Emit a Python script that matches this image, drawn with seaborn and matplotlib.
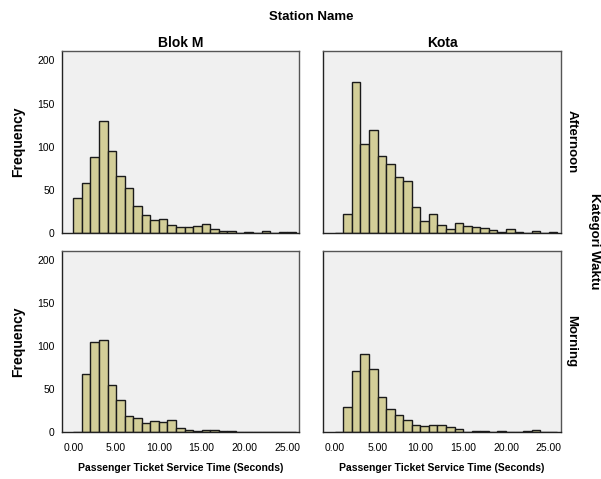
import numpy as np
import pandas as pd
import matplotlib
matplotlib.use("Agg")
import matplotlib.pyplot as plt
import seaborn as sns

# bin counts, bins of 1 second from 0 to 26
bin_edges = list(range(0, 27))
blok_m_afternoon = [40, 58, 88, 130, 95, 66, 52, 31, 21, 15, 16, 9, 7, 6, 8, 10, 4, 2, 2, 0, 1, 0, 2, 0, 1, 1]
kota_afternoon = [0, 22, 175, 103, 119, 89, 80, 65, 60, 30, 14, 22, 9, 4, 11, 8, 6, 5, 3, 1, 4, 1, 0, 2, 0, 1]
blok_m_morning = [0, 68, 105, 107, 55, 38, 19, 17, 11, 13, 12, 14, 5, 3, 1, 3, 3, 1, 1, 0, 0, 0, 0, 0, 0, 0]
kota_morning = [0, 29, 71, 91, 74, 41, 27, 20, 14, 9, 7, 9, 8, 6, 4, 0, 1, 2, 0, 2, 0, 0, 1, 3, 0, 0]

stations = ["Blok M", "Kota"]
periods = ["Afternoon", "Morning"]
counts = {
    ("Afternoon", "Blok M"): blok_m_afternoon,
    ("Afternoon", "Kota"): kota_afternoon,
    ("Morning", "Blok M"): blok_m_morning,
    ("Morning", "Kota"): kota_morning,
}
x_ticks = [0, 5, 10, 15, 20, 25]
y_ticks = [0, 50, 100, 150, 200]

rows = []
for (period, station), vals in counts.items():
    for lo, n in zip(bin_edges[:-1], vals):
        rows.append({"period": period, "station": station, "time": lo + 0.5, "n": n})
df = pd.DataFrame(rows)

sns.set_style("white")
plt.rcParams['font.family'] = ['Liberation Sans', 'DejaVu Sans']
plt.rcParams['text.color'] = 'black'
plt.rcParams['axes.labelcolor'] = 'black'
plt.rcParams['xtick.color'] = 'black'
plt.rcParams['ytick.color'] = 'black'

fig, axes = plt.subplots(2, 2, figsize=(6.01, 4.79), dpi=100, sharex=True, sharey=True)
fig.subplots_adjust(left=0.1027, right=0.933, top=0.8935, bottom=0.0975,
                    wspace=0.101, hspace=0.1)

bar_color = "#d3ce98"
for i, period in enumerate(periods):
    for j, station in enumerate(stations):
        ax = axes[i, j]
        sub = df[(df.period == period) & (df.station == station)]
        sns.histplot(data=sub, x="time", weights="n", binwidth=1, binrange=(0, 26), ax=ax,
                     color=bar_color, alpha=1, edgecolor="#1a1a1a", linewidth=1.0)
        ax.set_facecolor("#f0f0f0")
        ax.set_xlim(-1.35, 26.4)
        ax.set_ylim(0, 211)
        ax.set_xlabel("")
        ax.set_ylabel("")
        for side in ["top", "right"]:
            ax.spines[side].set_color("#555555")
            ax.spines[side].set_linewidth(1.0)
        for side in ["left", "bottom"]:
            ax.spines[side].set_color("#222222")
            ax.spines[side].set_linewidth(1.0)
        ax.tick_params(axis="both", length=0, labelsize=7.5)

        if j == 0:
            ax.set_yticks(y_ticks)
            ax.tick_params(axis="y", length=4, width=1, color="#222222",
                           labelleft=True, labelsize=7.5, pad=1)
            ax.set_ylabel("Frequency", fontsize=10, fontweight="bold", labelpad=9)
        else:
            ax.tick_params(axis="y", labelleft=False)

        if i == 1:
            ax.set_xticks(x_ticks)
            ax.set_xticklabels([f"{t:.2f}" for t in x_ticks])
            ax.tick_params(axis="x", length=5, width=1, color="#222222",
                           labelbottom=True, labelsize=7.5, pad=3)
            ax.set_xlabel("Passenger Ticket Service Time (Seconds)",
                          fontsize=7.5, fontweight="bold", labelpad=7)
        else:
            ax.tick_params(axis="x", labelbottom=False)

        if i == 0:
            ax.set_title(station, fontsize=10, fontweight="bold", pad=3)
        if j == 1:
            ax.text(1.045, 0.5, period, transform=ax.transAxes, rotation=-90,
                    ha="center", va="center", fontsize=9.5, fontweight="bold")

fig.text(0.518, 0.964, "Station Name", ha="center", va="center",
         fontsize=9.5, fontweight="bold")
fig.text(0.988, 0.497, "Kategori Waktu", ha="center", va="center",
         rotation=-90, fontsize=9.5, fontweight="bold")

fig.savefig("out.png", dpi=100)
